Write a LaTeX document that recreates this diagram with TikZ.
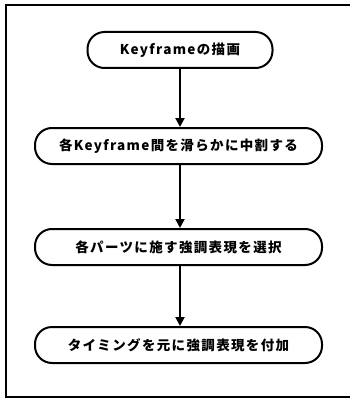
\documentclass[tikz,border=0pt]{standalone}
\usepackage{fontspec}
\newfontfamily\jp[LetterSpace=10]{Noto Sans CJK JP Black}
\usetikzlibrary{arrows.meta}
\begin{document}
\begin{tikzpicture}[x=1pt,y=-1pt,
  stepbox/.style={draw,line width=2pt,rounded corners=17pt,minimum height=36pt,inner sep=0pt,font=\jp\fontsize{13.5}{15}\selectfont},
  flow/.style={line width=2pt,-{Triangle[length=9pt,width=9pt]}}]
\useasboundingbox (0,0) rectangle (350,401);
\draw[line width=1.5pt] (352,5) -- (6,5) -- (6,397) -- (352,397);
\node[stepbox,minimum width=185pt] (a) at (180,50) {Keyframeの描画};
\node[stepbox,minimum width=287pt] (b) at (178.5,146) {各Keyframe間を滑らかに中割する};
\node[stepbox,minimum width=287pt] (c) at (178.5,247) {各パーツに施す強調表現を選択};
\node[stepbox,minimum width=287pt] (d) at (178.5,345) {タイミングを元に強調表現を付加};
\draw[flow] (a.south -| 180,0) -- (b.north -| 180,0);
\draw[flow] (b.south -| 180,0) -- (c.north -| 180,0);
\draw[flow] (c.south -| 180,0) -- (d.north -| 180,0);
\end{tikzpicture}
\end{document}
